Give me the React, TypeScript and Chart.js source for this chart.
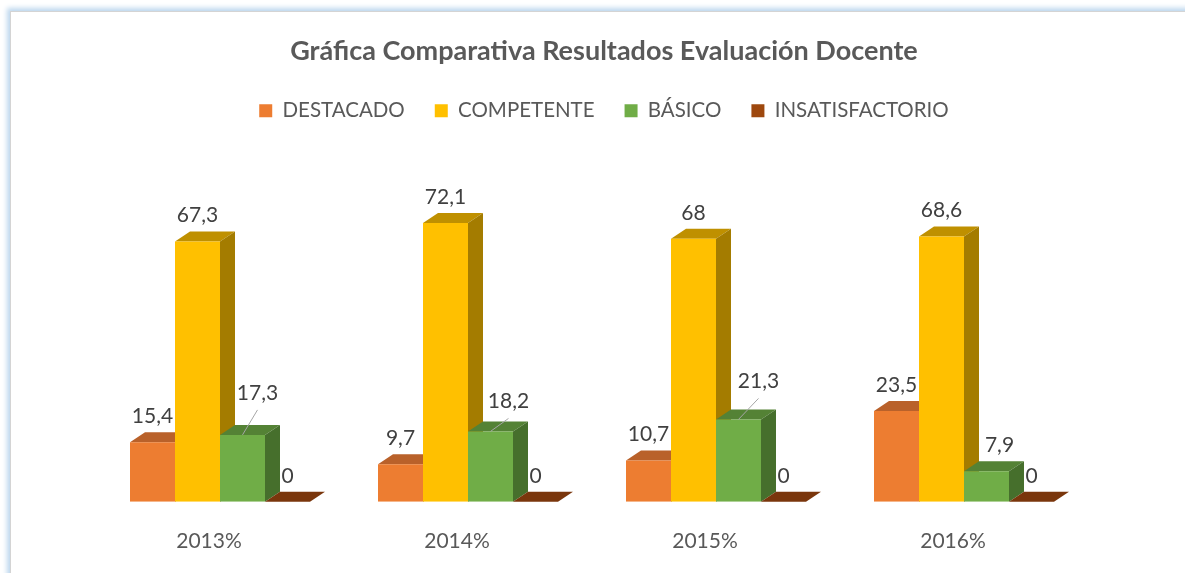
import React, { useEffect, useRef } from 'react';
import { Chart, registerables } from 'chart.js';

Chart.register(...registerables);

// ---------- data ----------
const titleText = 'Gráfica Comparativa Resultados Evaluación Docente';
const categories = ['2013%', '2014%', '2015%', '2016%'];
const seriesNames = ['DESTACADO', 'COMPETENTE', 'BÁSICO', 'INSATISFACTORIO'];
const destacado = [15.4, 9.7, 10.7, 23.5];
const competente = [67.3, 72.1, 68, 68.6];
const basico = [17.3, 18.2, 21.3, 7.9];
const insatisfactorio = [0, 0, 0, 0];

// ---------- styles ----------
const frontColors = ['#ED7D31', '#FFC000', '#70AD47', '#9E480E'];
const topColors = ['#B9612A', '#BF9000', '#548235', '#7A360C'];
const sideColors = ['#A5561F', '#A47C00', '#466F2C', '#6A2F0A'];
const DEPTH_X = 15;
const DEPTH_Y = 10;
const FONT = 'Lato';
// label nudges for the BÁSICO series: [dx, dy, leader line]
const basicoLabelShift: number[][] = [
  [15, -16, 1],
  [18, -4, 1],
  [20, -12, 1],
  [13, 0, 0],
];

const fmt = (v: number) => String(v).replace('.', ',');

const depthPlugin = {
  id: 'depth3d',
  beforeDatasetsDraw(chart: any) {
    const ctx = chart.ctx;
    ctx.save();
    chart.data.datasets.forEach((_ds: any, di: number) => {
      const meta = chart.getDatasetMeta(di);
      meta.data.forEach((bar: any) => {
        const { x, y, base, width } = bar.getProps(['x', 'y', 'base', 'width'], true);
        const l = x - width / 2;
        const r = x + width / 2;
        ctx.fillStyle = topColors[di];
        ctx.beginPath();
        ctx.moveTo(l, y);
        ctx.lineTo(l + DEPTH_X, y - DEPTH_Y);
        ctx.lineTo(r + DEPTH_X, y - DEPTH_Y);
        ctx.lineTo(r, y);
        ctx.closePath();
        ctx.fill();
        if (base - y > 0.5) {
          ctx.fillStyle = sideColors[di];
          ctx.beginPath();
          ctx.moveTo(r, y);
          ctx.lineTo(r + DEPTH_X, y - DEPTH_Y);
          ctx.lineTo(r + DEPTH_X, base - DEPTH_Y);
          ctx.lineTo(r, base);
          ctx.closePath();
          ctx.fill();
        }
      });
    });
    ctx.restore();
  },
};

const labelPlugin = {
  id: 'barLabels',
  afterDatasetsDraw(chart: any) {
    const ctx = chart.ctx;
    ctx.save();
    ctx.font = `21px ${FONT}`;
    ctx.textAlign = 'center';
    ctx.textBaseline = 'middle';
    chart.data.datasets.forEach((ds: any, di: number) => {
      const meta = chart.getDatasetMeta(di);
      meta.data.forEach((bar: any, i: number) => {
        const { x, y } = bar.getProps(['x', 'y'], true);
        let lx = x;
        let ly = y - DEPTH_Y - 16;
        if (di === 2) {
          const [dx, dy, leader] = basicoLabelShift[i];
          lx += dx;
          ly += dy;
          if (leader) {
            ctx.strokeStyle = '#A6A6A6';
            ctx.lineWidth = 1;
            ctx.beginPath();
            ctx.moveTo(x, y);
            ctx.lineTo(lx, ly + 17);
            ctx.stroke();
          }
        }
        ctx.fillStyle = '#404040';
        ctx.fillText(fmt(ds.data[i]), lx, ly);
      });
    });
    ctx.restore();
  },
};

export default function App() {
  const ref = useRef<HTMLCanvasElement>(null);
  useEffect(() => {
    if (!ref.current) return;
    const values = [destacado, competente, basico, insatisfactorio];
    const chart = new Chart(ref.current, {
      type: 'bar',
      data: {
        labels: categories,
        datasets: seriesNames.map((name, i) => ({
          label: name,
          data: values[i],
          backgroundColor: frontColors[i],
          borderWidth: 0,
          categoryPercentage: 180 / 248,
          barPercentage: 1,
        })),
      },
      options: {
        animation: false,
        responsive: false,
        layout: { padding: { top: 12, left: 96, right: 73, bottom: -8 } },
        plugins: {
          title: {
            display: true,
            text: titleText,
            color: '#595959',
            font: { family: FONT, size: 27, weight: 'bold' },
            padding: { top: 23, bottom: 3 },
          },
          legend: {
            display: true,
            labels: {
              boxWidth: 13,
              boxHeight: 13,
              padding: 30,
              color: '#595959',
              font: { family: FONT, size: 20.5 },
            },
          },
          tooltip: { enabled: false },
        },
        scales: {
          x: {
            grid: { display: false, drawTicks: false },
            border: { display: false },
            ticks: {
              color: '#595959',
              font: { family: FONT, size: 21 },
              padding: 27,
              labelOffset: -11,
            },
          },
          y: {
            position: 'right',
            min: 0,
            max: 95.9,
            grid: { display: false, drawTicks: false },
            border: { display: false },
            ticks: { display: false },
            afterFit: (s: any) => {
              s.width = 24;
            },
          },
        },
      },
      plugins: [depthPlugin, labelPlugin],
    } as any);
    return () => chart.destroy();
  }, []);

  return (
    <div style={{ position: 'fixed', left: 0, top: 0, width: 1185, height: 573, background: '#fff', overflow: 'hidden' }}>
      <div
        style={{
          position: 'absolute',
          left: 10,
          top: 11,
          width: 1200,
          height: 620,
          border: '1px solid #d4d4d4',
          boxShadow: '0 0 5px 3px #bdd7ee',
          background: '#fff',
        }}
      />
      <canvas ref={ref} width={1185} height={573} style={{ position: 'absolute', left: 0, top: 0, width: 1185, height: 573 }} />
    </div>
  );
}
